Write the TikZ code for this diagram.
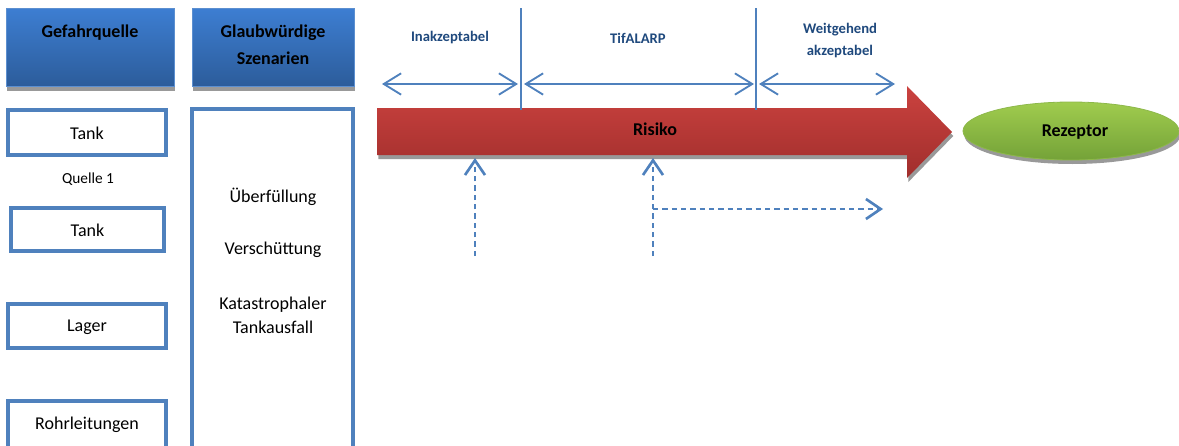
\documentclass[tikz,border=0pt]{standalone}
\usepackage{fontspec}
\setmainfont{Carlito}
\usetikzlibrary{arrows.meta,shapes.geometric,shadows}
\definecolor{hdtop}{HTML}{3D7ED2}
\definecolor{hdbot}{HTML}{2C5C9A}
\definecolor{hdline}{HTML}{5C8FD0}
\definecolor{bx}{HTML}{4F81BD}
\definecolor{lbl}{HTML}{1F497D}
\definecolor{rtop}{HTML}{CB423F}
\definecolor{rbot}{HTML}{A02E2C}
\definecolor{gtop}{HTML}{A0CC4E}
\definecolor{gbot}{HTML}{74A238}
\definecolor{gline}{HTML}{8DB84A}
\tikzset{
  shd/.style={drop shadow={shadow xshift=1pt,shadow yshift=-3pt,fill=black!40,opacity=1}},
  header/.style={draw=hdline,line width=0.6pt,top color=hdtop,bottom color=hdbot,shd,inner sep=0pt},
  srcbox/.style={draw=bx,line width=3pt,fill=white,inner sep=0pt},
  bodytxt/.style={font=\fontsize{13.5}{16}\selectfont,align=center,inner sep=0pt},
  headtxt/.style={font=\fontsize{13.5}{20}\selectfont\bfseries,align=center,inner sep=0pt},
  zonetxt/.style={font=\fontsize{11}{16.5}\selectfont\bfseries,text=lbl,align=center,inner sep=0pt},
  zonearrow/.style={draw=bx,line width=1.4pt,{Straight Barb[length=13pt,width=16pt]}-{Straight Barb[length=13pt,width=16pt]}},
  divider/.style={draw=bx,line width=1.1pt},
  dasharrow/.style={draw=bx,line width=2pt,dash pattern=on 4pt off 3pt,-{Straight Barb[length=11pt,width=15pt]}},
}
\begin{document}
\begin{tikzpicture}[x=0.75pt,y=-0.75pt]
\useasboundingbox (0,0) rectangle (1179,446);
% headers
\node[header,minimum width=126pt,minimum height=59pt] (h1) at (90,47.5) {};
\node[header,minimum width=121.5pt,minimum height=59pt] (h2) at (273,47.5) {};
\node[headtxt] (h1t) at (90,33) {Gefahrquelle};
\node[headtxt] (h2t) at (273,44.5) {Glaubwürdige\\Szenarien};
% source boxes
\node[srcbox,minimum width=118.5pt,minimum height=33.75pt] (tank1) at (87,132.5) {};
\node[bodytxt] (tank1t) at (87,133) {Tank};
\node[font=\fontsize{11.5}{14}\selectfont,inner sep=0pt] (quelle) at (88,179) {Quelle 1};
\node[srcbox,minimum width=114.75pt,minimum height=32.25pt] (tank2) at (87.5,229.5) {};
\node[bodytxt] (tank2t) at (87.5,230) {Tank};
\node[srcbox,minimum width=118.5pt,minimum height=33pt] (lager) at (87,326) {};
\node[bodytxt] (lagert) at (87,327) {Lager};
\node[srcbox,minimum width=118.5pt,minimum height=36pt] (rohr) at (87,425) {};
\node[bodytxt] (rohrt) at (87,425) {Rohrleitungen};
% scenario box
\node[srcbox,minimum width=120.75pt,minimum height=257pt] (scen) at (272.5,280.5) {};
\node[bodytxt] (s1) at (273,197) {Überfüllung};
\node[bodytxt] (s2) at (273,250) {Verschüttung};
\node[bodytxt,font=\fontsize{13.5}{18}\selectfont] (s3) at (273,315) {Katastrophaler\\Tankausfall};
% risk arrow
\path[shd,top color=rtop,bottom color=rbot]
  (377,108) -- (907,108) -- (907,86) -- (952,132) -- (907,178) -- (907,155) -- (377,155) -- cycle;
\node[headtxt] (risiko) at (655,129) {Risiko};
% receptor
\node[ellipse,draw=gline,line width=0.6pt,top color=gtop,bottom color=gbot,shd,
      minimum width=162pt,minimum height=43.5pt,inner sep=0pt] (rez) at (1071,131) {};
\node[headtxt] (rezt) at (1075,132) {Rezeptor};
% dividers
\coordinate (d1t) at (521,8);
\coordinate (d1b) at (521,110);
\coordinate (d2t) at (756,8);
\coordinate (d2b) at (756,110);
\draw[divider] (d1t) -- (d1b);
\draw[divider] (d2t) -- (d2b);
% zone arrows
\coordinate (z1a) at (382,84);
\coordinate (z1b) at (518,84);
\coordinate (z2a) at (524,84);
\coordinate (z2b) at (754,84);
\coordinate (z3a) at (759,84);
\coordinate (z3b) at (895,84);
\draw[zonearrow] (z1a) -- (z1b);
\draw[zonearrow] (z2a) -- (z2b);
\draw[zonearrow] (z3a) -- (z3b);
\node[zonetxt] (zt1) at (450,38) {Inakzeptabel};
\node[zonetxt] (zt2) at (638,38) {TifALARP};
\node[zonetxt] (zt3) at (840,41) {Weitgehend\\akzeptabel};
% dashed arrows
\coordinate (p1) at (475,256);
\coordinate (q1) at (475,158);
\coordinate (p2) at (653,256);
\coordinate (q2) at (653,158);
\coordinate (m2) at (653,209);
\coordinate (r2) at (883,209);
\draw[dasharrow] (p1) -- (q1);
\draw[dasharrow] (p2) -- (q2);
\draw[dasharrow] (m2) -- (r2);
\end{tikzpicture}
\end{document}
